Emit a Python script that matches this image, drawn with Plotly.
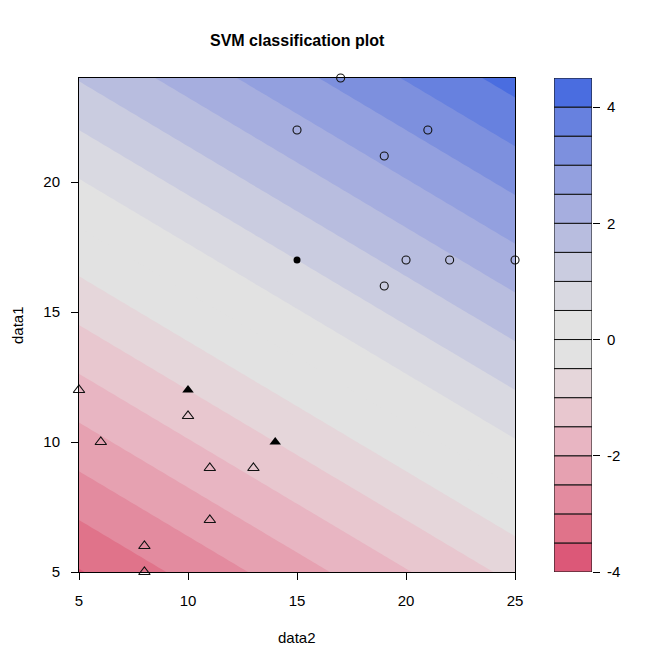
import numpy as np
import plotly.graph_objects as go

# Points of the two classes (x = data2, y = data1)
circleX = [17, 15, 21, 19, 20, 22, 25, 19]
circleY = [24, 22, 22, 21, 17, 17, 17, 16]
triangleX = [5, 10, 6, 11, 13, 11, 8, 8]
triangleY = [12, 11, 10, 9, 9, 7, 6, 5]

# Support vectors (drawn filled)
svCircleX = [15]
svCircleY = [17]
svTriangleX = [10, 14]
svTriangleY = [12, 10]

# Linear decision function: f = w2*data2 + w1*data1 + b
w2 = 0.1333
w1 = 0.2667
b = -5.533

# Contour levels and band colours (bottom to top)
levels = [-4, -3.5, -3, -2.5, -2, -1.5, -1, -0.5, 0, 0.5, 1, 1.5, 2, 2.5, 3, 3.5, 4, 4.5]
bandColors = ['#DC5878', '#E0738A', '#E38B9F', '#E6A1B1', '#E8B5C2', '#E8C7CF',
              '#E5D6DA', '#E2E2E2', '#E2E2E2', '#D9D9E1', '#CACCE0', '#B8BDDF',
              '#A6AEDF', '#93A0DF', '#7D90DE', '#6781DF', '#4A6DE0']
cbTicks = [-4, -2, 0, 2, 4]
cbTickText = ['-4', '-2', '0', '2', '4']

xRange = [5, 25]
yRange = [5, 24]

gx = np.linspace(xRange[0], xRange[1], 81)
gy = np.linspace(yRange[0], yRange[1], 77)
Z = w2 * gx[None, :] + w1 * gy[:, None] + b

# band k is coloured at its midpoint -> colorscale fraction (k+1)/(n+1)
n = len(bandColors)
colorscale = [[0, bandColors[0]]]
for k, c in enumerate(bandColors):
    colorscale.append([(k + 1) / (n + 1), c])
colorscale.append([1, bandColors[-1]])

fontName = 'Liberation Sans, Arial, sans-serif'

fig = go.Figure()
fig.add_trace(go.Contour(x=gx, y=gy, z=Z, colorscale=colorscale, showscale=False,
                         contours=dict(start=levels[0], end=levels[-1], size=0.5,
                                       coloring='fill', showlines=False),
                         line=dict(width=0), hoverinfo='skip'))

fig.add_trace(go.Scatter(x=circleX, y=circleY, mode='markers', cliponaxis=False,
                         marker=dict(symbol='circle-open', size=8, color='#111',
                                     line=dict(width=1.1))))
fig.add_trace(go.Scatter(x=triangleX, y=triangleY, mode='markers', cliponaxis=False,
                         marker=dict(symbol='triangle-up-open', size=10, color='#111',
                                     line=dict(width=1.1))))
fig.add_trace(go.Scatter(x=svCircleX, y=svCircleY, mode='markers',
                         marker=dict(symbol='circle', size=7, color='black')))
fig.add_trace(go.Scatter(x=svTriangleX, y=svTriangleY, mode='markers',
                         marker=dict(symbol='triangle-up', size=10, color='black')))

# colour key as stacked bars on its own axes
fig.add_trace(go.Bar(x=[0.5] * n, y=[levels[i + 1] - levels[i] for i in range(n)],
                     base=levels[:-1], width=1, xaxis='x2', yaxis='y2',
                     marker=dict(color=bandColors, line=dict(color='#111', width=1)),
                     hoverinfo='skip'))

# page body adds an 8px offset, so the figure is 8px smaller than the window
fig.update_layout(
    width=663, height=663, showlegend=False,
    paper_bgcolor='white', plot_bgcolor='white',
    margin=dict(l=71, r=79, t=70, b=99),
    font=dict(family=fontName, size=15, color='black'),
    xaxis=dict(domain=[0, 0.85], range=xRange, tickvals=[5, 10, 15, 20, 25],
               showgrid=False, zeroline=False, showline=True, mirror=True,
               linecolor='black', linewidth=1, ticks='outside', ticklen=7,
               tickcolor='black', ticklabelstandoff=8),
    yaxis=dict(range=yRange, tickvals=[5, 10, 15, 20],
               showgrid=False, zeroline=False, showline=True, mirror=True,
               linecolor='black', linewidth=1, ticks='outside', ticklen=7,
               tickcolor='black', ticklabelstandoff=8),
    xaxis2=dict(domain=[0.926, 1], range=[0, 1], anchor='y2', showgrid=False,
                zeroline=False, showticklabels=False, showline=False),
    yaxis2=dict(anchor='x2', side='right', range=[levels[0], levels[-1]],
                tickvals=cbTicks, ticktext=cbTickText, showgrid=False,
                zeroline=False, showline=False, ticks='outside', ticklen=7,
                tickcolor='black', ticklabelstandoff=4),
    annotations=[
        dict(text='<b>SVM classification plot</b>', xref='paper', yref='paper',
             x=0.425, y=1, yshift=38, yanchor='middle', showarrow=False,
             font=dict(size=16)),
        dict(text='data2', xref='paper', yref='paper', x=0.425, y=0, yshift=-65,
             yanchor='middle', showarrow=False),
        dict(text='data1', xref='paper', yref='paper', x=0, y=0.5, xshift=-62,
             xanchor='center', textangle=-90, showarrow=False),
    ],
)

fig.write_html("out.html")
